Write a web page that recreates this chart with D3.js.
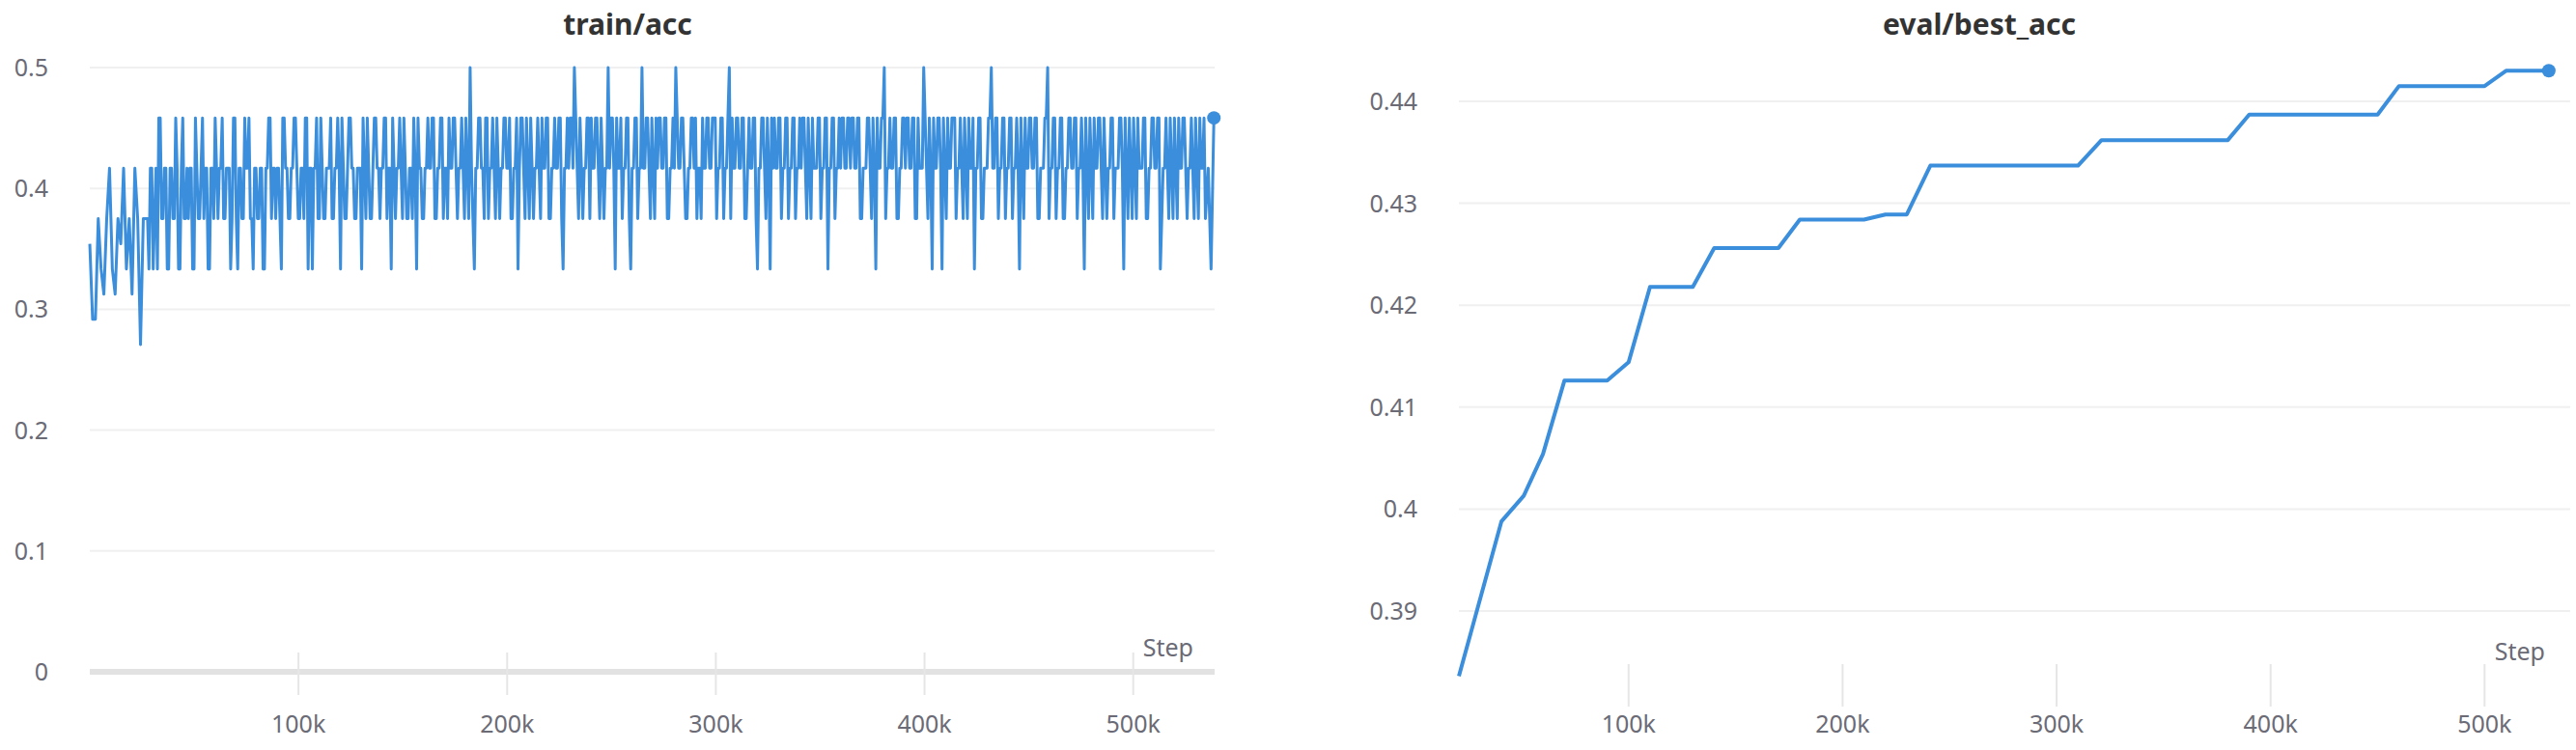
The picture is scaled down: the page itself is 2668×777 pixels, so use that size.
<!DOCTYPE html>
<html><head><meta charset="utf-8">
<script src="https://cdn.jsdelivr.net/npm/d3@7"></script>
<style>
body{margin:0;background:#fff;}
text{font-family:"Noto Sans",sans-serif;}
</style></head>
<body><svg id="c" width="2668" height="777"></svg>
<script>
// train/acc: first points in 48ths, rest in 24ths (one char per 1350 steps)
var trainStep = 1350;
var trainEarly48 = [17,14,14,18,16,15,18,20,16,15,18,17,20,16,18,15,20,18,13,18];
var trainLevels24 =
  "98a98b9a8a9a8b99a8a9ba8a9aab9a8b9a9ba98a9a8aba9a8b" +
  "a9ab9a9ba8a9b9aa9ab8a9ba9aab9a9ba9aba8aab9a9ab8a9a" +
  "bab9aba9abaab9ac9aba9bab9aabab9a8bab9aab9ab9abab8a" +
  "abcab9abbab9aacbaba9ab8abacab9abbab9abcaba9abba9ab" +
  "abbab9acbabab9bab8ab9abbabab9ababbab9aabab8ababbab" +
  "abab9abab8abcabab9abbab9bacab8abab9abbab9aba8ab9ab" +
  "cabab9abab8ababab9abcab9ab9ababab8ab9abab9abaab8ab" +
  "9abab9abab8ab9ab9abaab9aba9a8b";
// logged values between those above (half-step offsets)
var trainLevels24b =
  "9a8ab9a8a9b8a9aa8b9a9a8ab9a9aa9b8a9ab9a9a8ab9aa9ba" +
  "9aba9ab8aab9a9ab9aab9aba9a8ab9abaab9ab9aab9a9aba9a" +
  "ab9ab9abab9aab9a8abab9aab9aba9abab9ab9aabab9aab9ab" +
  "bab9aab9abab9aab8abab9ab9aabab9abab9aabab9aba9abab" +
  "ab9abab9abab9aab9abab8aab9abab9aab9abab9abab9aabab" +
  "bab9aab9abab9aab9ababab9aab9abab8abab9aab9abab9aab" +
  "ab9abab9aab9abab9aab9abab9abab9aab9abab9aab9abab9a" +
  "b9aab9abab9aab9abab9aab9ab";

// eval/best_acc breakpoints
var evalSteps = [20700,40600,51000,60000,70000,90000,100000,110000,130000,140000,170000,180000,210000,220000,230000,241000,310000,321000,380000,390000,450000,460000,500000,510000,530000];
var evalVals  = [0.3836,0.3988,0.4013,0.4054,0.4126,0.4126,0.4144,0.4218,0.4218,0.4256,0.4256,0.4284,0.4284,0.4289,0.4289,0.4337,0.4337,0.4362,0.4362,0.4387,0.4387,0.4415,0.4415,0.4430,0.4430];

var xTicks = [100000,200000,300000,400000,500000];
var trainYTicks = [0,0.1,0.2,0.3,0.4,0.5];
var evalYTicks = [0.39,0.4,0.41,0.42,0.43,0.44];

var n0 = trainEarly48.length;
var train = trainEarly48.map(function(v,i){ return {s:i*trainStep, v:v/48}; });
trainLevels24.split('').forEach(function(ch,i){
  train.push({s:(n0+i)*trainStep, v:parseInt(ch,16)/24});
});
trainLevels24b.split('').forEach(function(ch,i){
  train.push({s:(n0+i+0.5)*trainStep, v:parseInt(ch,16)/24});
});
train.sort(function(a,b){ return a.s-b.s; });
var evalData = evalSteps.map(function(s,i){ return {s:s, v:evalVals[i]}; });

var svg = d3.select('#c');
var blue = '#3a8edb', grey = '#6b6b76';

function panel(o){
  var g = svg.append('g');
  var x = d3.scaleLinear().domain(o.xd).range([o.x0,o.x1]);
  var y = d3.scaleLinear().domain(o.yd).range([o.y0,o.y1]);
  g.append('text').attr('x',o.tx).attr('y',36).attr('text-anchor','middle')
    .attr('font-size',30).attr('font-weight','bold').attr('fill','#333').text(o.title);
  o.yt.forEach(function(t){
    g.append('line').attr('x1',o.x0).attr('x2',o.x1).attr('y1',y(t)).attr('y2',y(t))
      .attr('stroke',t===0?'#e2e2e2':'#f0f0f0').attr('stroke-width',t===0?6:2);
    g.append('text').attr('x',o.lx).attr('y',y(t)+9).attr('text-anchor','end')
      .attr('font-size',25).attr('fill',grey).text(String(t));
  });
  xTicks.forEach(function(t){
    g.append('line').attr('x1',x(t)).attr('x2',x(t)).attr('y1',o.tkTop).attr('y2',o.tkTop+44)
      .attr('stroke','#e6e6e6').attr('stroke-width',2);
    g.append('text').attr('x',x(t)).attr('y',759).attr('text-anchor','middle')
      .attr('font-size',25).attr('fill',grey).text(t/1000+'k');
  });
  g.append('text').attr('x',o.sx).attr('y',o.sy).attr('text-anchor','end')
    .attr('font-size',25).attr('fill',grey).text('Step');
  var line = d3.line().x(function(d){return x(d.s);}).y(function(d){return y(d.v);});
  g.append('path').datum(o.data).attr('d',line).attr('fill','none')
    .attr('stroke',blue).attr('stroke-width',o.sw).attr('stroke-linejoin','round');
  var last = o.data[o.data.length-1];
  g.append('circle').attr('cx',x(last.s)).attr('cy',y(last.v)).attr('r',7).attr('fill',blue);
}

panel({title:'train/acc', tx:650, data:train, xd:[0,539000], yd:[0,0.5],
  x0:93, x1:1258, y0:696, y1:70, yt:trainYTicks, lx:50, tkTop:676, sx:1236, sy:680, sw:3});
panel({title:'eval/best_acc', tx:2050, data:evalData, xd:[20700,540000], yd:[0.39,0.44],
  x0:1511, x1:2662, y0:633, y1:105, yt:evalYTicks, lx:1468, tkTop:688, sx:2636, sy:684, sw:4});
</script></body></html>
